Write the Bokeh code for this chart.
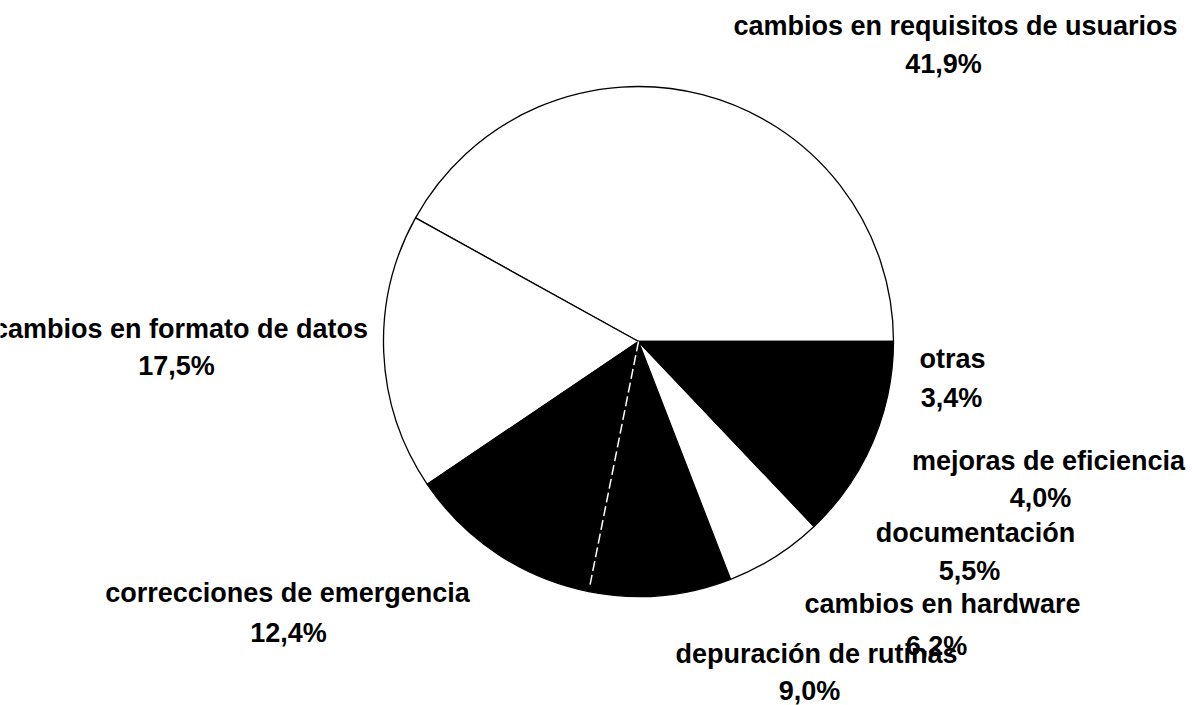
import numpy as np
from bokeh.plotting import figure
from bokeh.models import Range1d, ColumnDataSource
from bokeh.core.properties import value
from bokeh.embed import file_html
from bokeh.resources import INLINE

# ---------------- data ----------------
categories = [
    "cambios en requisitos de usuarios",
    "cambios en formato de datos",
    "correcciones de emergencia",
    "depuración de rutinas",
    "cambios en hardware",
    "documentación",
    "mejoras de eficiencia",
    "otras",
]
percentages = [41.9, 17.5, 12.4, 9.0, 6.2, 5.5, 4.0, 3.4]

# ---------------- layout / style ----------------
PAGE_H = 705
W, H = 1192, 705
fills = ["white", "white", "black", "black", "white", "black", "black", "black"]
CX, CY_SCREEN, R = 638, 341, 255
# label anchors in screen pixels (center x, baseline y) : name line / percent line
name_pos = [(955, 35), (180, 338), (287, 602), (816, 663), (942, 613), (975, 542), (1048, 470), (952, 368)]
pct_pos = [(943, 73), (176, 375), (288, 642), (809, 700), (936, 655), (969, 580), (1040, 507), (951, 407)]
BASELINE_FIX = 10  # renderer draws the alphabetic baseline a little low
FONT = value("Liberation Sans")
FSIZE = "27px"


def sy(y):
    return PAGE_H - (y - BASELINE_FIX)


vals = np.array(percentages)
cum = np.concatenate([[0.0], np.cumsum(vals)]) / vals.sum() * 2 * np.pi
starts, ends = cum[:-1], cum[1:]
cy = PAGE_H - CY_SCREEN

p = figure(width=W, height=H, title=None,
           x_range=Range1d(0, W), y_range=Range1d(PAGE_H - H, PAGE_H),
           output_backend="svg", toolbar_location=None, min_border=0,
           x_axis_location=None, y_axis_location=None)
p.grid.visible = False
p.outline_line_color = None
p.background_fill_color = "white"
p.border_fill_color = "white"

src = ColumnDataSource(dict(cat=categories, pct=percentages,
                            start=starts, end=ends, fill=fills))
p.wedge(x=CX, y=cy, radius=R, start_angle="start", end_angle="end",
        direction="anticlock", fill_color="fill", line_color="black",
        line_width=1.3, source=src)

# white broken boundary between the two adjoining black slices
b = ends[2]
p.segment(x0=[CX], y0=[cy], x1=[CX + (R - 4) * np.cos(b)], y1=[cy + (R - 4) * np.sin(b)],
          line_color="white", line_width=1.5, line_dash="10 4")

pct_text = [f"{v:.1f}".replace(".", ",") + "%" for v in percentages]
p.text(x=[q[0] for q in name_pos], y=[sy(q[1]) for q in name_pos], text=categories,
       text_font=FONT, text_font_size=FSIZE, text_font_style="bold", text_align="center",
       text_baseline="alphabetic", text_color="black")
p.text(x=[q[0] for q in pct_pos], y=[sy(q[1]) for q in pct_pos], text=pct_text,
       text_font=FONT, text_font_size=FSIZE, text_font_style="bold", text_align="center",
       text_baseline="alphabetic", text_color="black")

open("out.html", "w").write(file_html(p, INLINE))
